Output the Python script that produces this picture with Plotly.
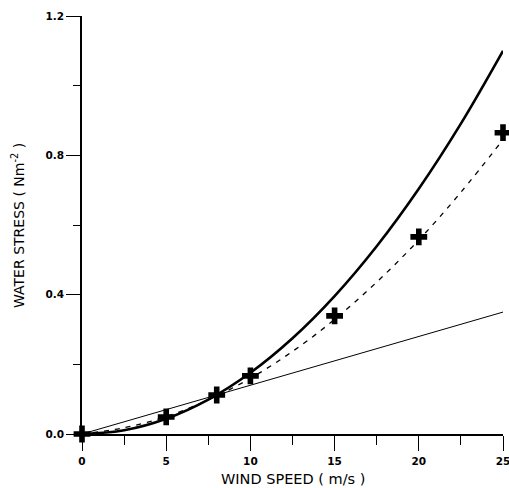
import plotly.graph_objects as go

# Data
wind_grid = [0, 2.5, 5, 7.5, 10, 12.5, 15, 17.5, 20, 22.5, 25]
stress_thick = [0, 0.011, 0.044, 0.099, 0.176, 0.275, 0.396, 0.539, 0.704, 0.891, 1.10]
stress_dashed = [0, 0.018, 0.050, 0.098, 0.160, 0.237, 0.329, 0.436, 0.557, 0.694, 0.845]
wind_thin = [0, 25]
stress_thin = [0, 0.35]
wind_obs = [0, 5, 8, 10, 15, 20, 25]
stress_obs = [0, 0.049, 0.112, 0.167, 0.339, 0.566, 0.865]

x_ticks = [0, 5, 10, 15, 20, 25]
y_ticks = [0.0, 0.4, 0.8, 1.2]
y_ticklabels = ["0.0", "0.4", "0.8", "1.2"]

FONT = "DejaVu Sans"
TICKFONT = dict(family=FONT, size=10.5, color="black", weight="bold")

L, R, T, B = 82, 503, 16, 434   # plot area in pixels
W, H = 509, 488

fig = go.Figure()
fig.add_trace(go.Scatter(x=wind_thin, y=stress_thin, mode="lines",
                         line=dict(color="black", width=1), cliponaxis=False))
fig.add_trace(go.Scatter(x=wind_grid, y=stress_dashed, mode="lines",
                         line=dict(color="black", width=1.3, dash="5px,6px", shape="spline"),
                         cliponaxis=False))
fig.add_trace(go.Scatter(x=wind_grid, y=stress_thick, mode="lines",
                         line=dict(color="black", width=2.6, shape="spline"),
                         cliponaxis=False))
fig.add_trace(go.Scatter(x=wind_obs, y=stress_obs, mode="markers",
                         marker=dict(symbol="cross", size=14, color="black",
                                     line=dict(width=0)),
                         cliponaxis=False))

fig.update_layout(
    width=W, height=H,
    margin=dict(l=L, r=W - R, t=T, b=H - B, autoexpand=False),
    plot_bgcolor="white", paper_bgcolor="white",
    showlegend=False,
    font=dict(family=FONT, color="black"),
    xaxis=dict(range=[0, 25], tickvals=x_ticks, ticks="outside", ticklen=15,
               tickwidth=1.3, tickcolor="black", showline=True, linecolor="black",
               linewidth=1.5, showgrid=False, zeroline=False, automargin=False,
               tickfont=TICKFONT, ticklabelstandoff=2, ticklabeloverflow="allow",
               minor=dict(dtick=2.5, tick0=0, ticks="outside", ticklen=9,
                          tickwidth=1.2, tickcolor="black", showgrid=False)),
    yaxis=dict(range=[0, 1.2], tickvals=y_ticks, ticktext=y_ticklabels,
               ticks="outside", ticklen=14, tickwidth=1.3, tickcolor="black",
               showline=True, linecolor="black", linewidth=1.5, showgrid=False,
               zeroline=False, automargin=False, tickfont=TICKFONT,
               ticklabelstandoff=0, ticklabeloverflow="allow",
               minor=dict(dtick=0.2, tick0=0, ticks="outside", ticklen=7,
                          tickwidth=1.2, tickcolor="black", showgrid=False)),
    annotations=[
        dict(text="WIND SPEED ( m/s )", xref="paper", yref="paper",
             x=0.5, y=-(479 - B) / (B - T), xanchor="center", yanchor="middle",
             showarrow=False, font=dict(family=FONT, size=14.5, color="black")),
        dict(text="WATER STRESS ( Nm<sup>-2</sup> )", textangle=-90,
             xref="paper", yref="paper",
             x=-(L - 18) / (R - L), y=(B - 226) / (B - T),
             xanchor="center", yanchor="middle",
             showarrow=False, font=dict(family=FONT, size=14, color="black")),
    ],
)

fig.write_html("out.html", config={"displayModeBar": False},
               post_script="document.body.style.margin='0';document.body.style.overflow='hidden';")
